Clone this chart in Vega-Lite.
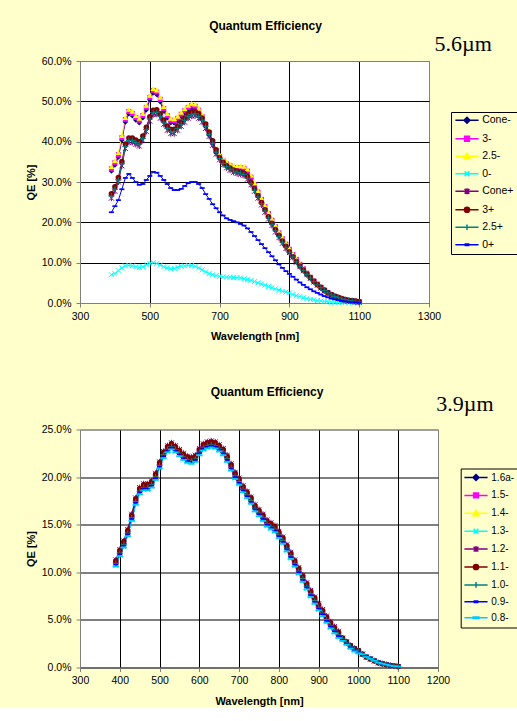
{
"$schema": "https://vega.github.io/schema/vega-lite/v6.json",
"background": "#FFFFCC",
"padding": {"left": 24, "top": 19, "right": 0, "bottom": 0},
"spacing": 42.5,
"datasets": {
"top": [
{"s":"Cone-","w":390,"q":32.7},{"s":"Cone-","w":400,"q":34.2},{"s":"Cone-","w":410,"q":36.2},{"s":"Cone-","w":420,"q":40.4},{"s":"Cone-","w":430,"q":44.9},{"s":"Cone-","w":440,"q":46.9},{"s":"Cone-","w":450,"q":46.4},{"s":"Cone-","w":460,"q":45.4},{"s":"Cone-","w":470,"q":44.7},{"s":"Cone-","w":480,"q":45.9},
{"s":"Cone-","w":490,"q":47.9},{"s":"Cone-","w":500,"q":50.4},{"s":"Cone-","w":510,"q":52.1},{"s":"Cone-","w":520,"q":51.7},{"s":"Cone-","w":530,"q":49.9},{"s":"Cone-","w":540,"q":47.6},{"s":"Cone-","w":550,"q":45.9},{"s":"Cone-","w":560,"q":44.7},{"s":"Cone-","w":570,"q":44.6},{"s":"Cone-","w":580,"q":45.2},
{"s":"Cone-","w":590,"q":46.2},{"s":"Cone-","w":600,"q":47.1},{"s":"Cone-","w":610,"q":47.9},{"s":"Cone-","w":620,"q":48.4},{"s":"Cone-","w":630,"q":48.2},{"s":"Cone-","w":640,"q":47.2},{"s":"Cone-","w":650,"q":45.6},{"s":"Cone-","w":660,"q":43.7},{"s":"Cone-","w":670,"q":41.6},{"s":"Cone-","w":680,"q":39.4},
{"s":"Cone-","w":690,"q":37.2},{"s":"Cone-","w":700,"q":35.9},{"s":"Cone-","w":710,"q":34.8},{"s":"Cone-","w":720,"q":34.1},{"s":"Cone-","w":730,"q":33.6},{"s":"Cone-","w":740,"q":33.2},{"s":"Cone-","w":750,"q":33.1},{"s":"Cone-","w":760,"q":33.1},{"s":"Cone-","w":770,"q":33.0},{"s":"Cone-","w":780,"q":32.3},
{"s":"Cone-","w":790,"q":30.8},{"s":"Cone-","w":800,"q":28.9},{"s":"Cone-","w":810,"q":27.1},{"s":"Cone-","w":820,"q":25.3},{"s":"Cone-","w":830,"q":23.5},{"s":"Cone-","w":840,"q":21.8},{"s":"Cone-","w":850,"q":20.1},{"s":"Cone-","w":860,"q":18.5},{"s":"Cone-","w":870,"q":17.0},{"s":"Cone-","w":880,"q":15.5},
{"s":"Cone-","w":890,"q":14.2},{"s":"Cone-","w":900,"q":13.1},{"s":"Cone-","w":910,"q":11.8},{"s":"Cone-","w":920,"q":10.6},{"s":"Cone-","w":930,"q":9.4},{"s":"Cone-","w":940,"q":8.3},{"s":"Cone-","w":950,"q":7.2},{"s":"Cone-","w":960,"q":6.2},{"s":"Cone-","w":970,"q":5.3},{"s":"Cone-","w":980,"q":4.5},
{"s":"Cone-","w":990,"q":3.7},{"s":"Cone-","w":1000,"q":3.1},{"s":"Cone-","w":1010,"q":2.5},{"s":"Cone-","w":1020,"q":2.0},{"s":"Cone-","w":1030,"q":1.6},{"s":"Cone-","w":1040,"q":1.2},{"s":"Cone-","w":1050,"q":0.9},{"s":"Cone-","w":1060,"q":0.7},{"s":"Cone-","w":1070,"q":0.5},{"s":"Cone-","w":1080,"q":0.4},
{"s":"Cone-","w":1090,"q":0.3},{"s":"Cone-","w":1100,"q":0.2},
{"s":"3-","w":390,"q":33.3},{"s":"3-","w":400,"q":34.8},{"s":"3-","w":410,"q":36.8},{"s":"3-","w":420,"q":41.0},{"s":"3-","w":430,"q":45.5},{"s":"3-","w":440,"q":47.5},{"s":"3-","w":450,"q":47.0},{"s":"3-","w":460,"q":46.0},{"s":"3-","w":470,"q":45.3},{"s":"3-","w":480,"q":46.5},
{"s":"3-","w":490,"q":48.5},{"s":"3-","w":500,"q":51.0},{"s":"3-","w":510,"q":52.7},{"s":"3-","w":520,"q":52.3},{"s":"3-","w":530,"q":50.5},{"s":"3-","w":540,"q":48.2},{"s":"3-","w":550,"q":46.5},{"s":"3-","w":560,"q":45.3},{"s":"3-","w":570,"q":45.2},{"s":"3-","w":580,"q":45.8},
{"s":"3-","w":590,"q":46.8},{"s":"3-","w":600,"q":47.7},{"s":"3-","w":610,"q":48.5},{"s":"3-","w":620,"q":49.0},{"s":"3-","w":630,"q":48.8},{"s":"3-","w":640,"q":47.8},{"s":"3-","w":650,"q":46.2},{"s":"3-","w":660,"q":44.3},{"s":"3-","w":670,"q":42.2},{"s":"3-","w":680,"q":40.0},
{"s":"3-","w":690,"q":37.8},{"s":"3-","w":700,"q":36.3},{"s":"3-","w":710,"q":35.2},{"s":"3-","w":720,"q":34.5},{"s":"3-","w":730,"q":34.0},{"s":"3-","w":740,"q":33.6},{"s":"3-","w":750,"q":33.5},{"s":"3-","w":760,"q":33.5},{"s":"3-","w":770,"q":33.4},{"s":"3-","w":780,"q":32.7},
{"s":"3-","w":790,"q":31.2},{"s":"3-","w":800,"q":29.3},{"s":"3-","w":810,"q":27.5},{"s":"3-","w":820,"q":25.7},{"s":"3-","w":830,"q":23.9},{"s":"3-","w":840,"q":22.2},{"s":"3-","w":850,"q":20.5},{"s":"3-","w":860,"q":18.9},{"s":"3-","w":870,"q":17.4},{"s":"3-","w":880,"q":15.9},
{"s":"3-","w":890,"q":14.6},{"s":"3-","w":900,"q":13.3},{"s":"3-","w":910,"q":12.0},{"s":"3-","w":920,"q":10.8},{"s":"3-","w":930,"q":9.6},{"s":"3-","w":940,"q":8.5},{"s":"3-","w":950,"q":7.4},{"s":"3-","w":960,"q":6.4},{"s":"3-","w":970,"q":5.5},{"s":"3-","w":980,"q":4.7},
{"s":"3-","w":990,"q":3.9},{"s":"3-","w":1000,"q":3.2},{"s":"3-","w":1010,"q":2.6},{"s":"3-","w":1020,"q":2.1},{"s":"3-","w":1030,"q":1.7},{"s":"3-","w":1040,"q":1.3},{"s":"3-","w":1050,"q":1.0},{"s":"3-","w":1060,"q":0.8},{"s":"3-","w":1070,"q":0.6},{"s":"3-","w":1080,"q":0.5},
{"s":"3-","w":1090,"q":0.4},{"s":"3-","w":1100,"q":0.3},
{"s":"2.5-","w":390,"q":33.8},{"s":"2.5-","w":400,"q":35.3},{"s":"2.5-","w":410,"q":37.3},{"s":"2.5-","w":420,"q":41.5},{"s":"2.5-","w":430,"q":46.0},{"s":"2.5-","w":440,"q":48.0},{"s":"2.5-","w":450,"q":47.5},{"s":"2.5-","w":460,"q":46.5},{"s":"2.5-","w":470,"q":45.8},{"s":"2.5-","w":480,"q":47.0},
{"s":"2.5-","w":490,"q":49.0},{"s":"2.5-","w":500,"q":51.5},{"s":"2.5-","w":510,"q":53.2},{"s":"2.5-","w":520,"q":52.8},{"s":"2.5-","w":530,"q":51.0},{"s":"2.5-","w":540,"q":48.7},{"s":"2.5-","w":550,"q":47.0},{"s":"2.5-","w":560,"q":45.8},{"s":"2.5-","w":570,"q":45.7},{"s":"2.5-","w":580,"q":46.3},
{"s":"2.5-","w":590,"q":47.3},{"s":"2.5-","w":600,"q":48.2},{"s":"2.5-","w":610,"q":49.0},{"s":"2.5-","w":620,"q":49.5},{"s":"2.5-","w":630,"q":49.3},{"s":"2.5-","w":640,"q":48.3},{"s":"2.5-","w":650,"q":46.7},{"s":"2.5-","w":660,"q":44.8},{"s":"2.5-","w":670,"q":42.7},{"s":"2.5-","w":680,"q":40.5},
{"s":"2.5-","w":690,"q":38.3},{"s":"2.5-","w":700,"q":36.8},{"s":"2.5-","w":710,"q":35.7},{"s":"2.5-","w":720,"q":35.0},{"s":"2.5-","w":730,"q":34.5},{"s":"2.5-","w":740,"q":34.1},{"s":"2.5-","w":750,"q":34.0},{"s":"2.5-","w":760,"q":34.0},{"s":"2.5-","w":770,"q":33.9},{"s":"2.5-","w":780,"q":33.2},
{"s":"2.5-","w":790,"q":31.7},{"s":"2.5-","w":800,"q":29.8},{"s":"2.5-","w":810,"q":27.8},{"s":"2.5-","w":820,"q":26.0},{"s":"2.5-","w":830,"q":24.2},{"s":"2.5-","w":840,"q":22.5},{"s":"2.5-","w":850,"q":20.8},{"s":"2.5-","w":860,"q":19.2},{"s":"2.5-","w":870,"q":17.7},{"s":"2.5-","w":880,"q":16.2},
{"s":"2.5-","w":890,"q":14.9},{"s":"2.5-","w":900,"q":13.5},{"s":"2.5-","w":910,"q":12.2},{"s":"2.5-","w":920,"q":11.0},{"s":"2.5-","w":930,"q":9.8},{"s":"2.5-","w":940,"q":8.7},{"s":"2.5-","w":950,"q":7.6},{"s":"2.5-","w":960,"q":6.6},{"s":"2.5-","w":970,"q":5.7},{"s":"2.5-","w":980,"q":4.9},
{"s":"2.5-","w":990,"q":4.1},{"s":"2.5-","w":1000,"q":3.3},{"s":"2.5-","w":1010,"q":2.7},{"s":"2.5-","w":1020,"q":2.2},{"s":"2.5-","w":1030,"q":1.8},{"s":"2.5-","w":1040,"q":1.4},{"s":"2.5-","w":1050,"q":1.1},{"s":"2.5-","w":1060,"q":0.9},{"s":"2.5-","w":1070,"q":0.7},{"s":"2.5-","w":1080,"q":0.6},
{"s":"2.5-","w":1090,"q":0.5},{"s":"2.5-","w":1100,"q":0.4},
{"s":"0-","w":390,"q":7.0},{"s":"0-","w":400,"q":7.3},{"s":"0-","w":410,"q":8.0},{"s":"0-","w":420,"q":8.7},{"s":"0-","w":430,"q":9.2},{"s":"0-","w":440,"q":9.3},{"s":"0-","w":450,"q":9.2},{"s":"0-","w":460,"q":9.0},{"s":"0-","w":470,"q":8.8},{"s":"0-","w":480,"q":9.0},
{"s":"0-","w":490,"q":9.5},{"s":"0-","w":500,"q":9.8},{"s":"0-","w":510,"q":10.0},{"s":"0-","w":520,"q":9.8},{"s":"0-","w":530,"q":9.4},{"s":"0-","w":540,"q":9.0},{"s":"0-","w":550,"q":8.7},{"s":"0-","w":560,"q":8.5},{"s":"0-","w":570,"q":8.6},{"s":"0-","w":580,"q":8.9},
{"s":"0-","w":590,"q":9.1},{"s":"0-","w":600,"q":9.2},{"s":"0-","w":610,"q":9.3},{"s":"0-","w":620,"q":9.3},{"s":"0-","w":630,"q":9.1},{"s":"0-","w":640,"q":8.7},{"s":"0-","w":650,"q":8.2},{"s":"0-","w":660,"q":7.7},{"s":"0-","w":670,"q":7.3},{"s":"0-","w":680,"q":7.0},
{"s":"0-","w":690,"q":6.8},{"s":"0-","w":700,"q":6.6},{"s":"0-","w":710,"q":6.5},{"s":"0-","w":720,"q":6.4},{"s":"0-","w":730,"q":6.4},{"s":"0-","w":740,"q":6.3},{"s":"0-","w":750,"q":6.3},{"s":"0-","w":760,"q":6.2},{"s":"0-","w":770,"q":6.0},{"s":"0-","w":780,"q":5.8},
{"s":"0-","w":790,"q":5.6},{"s":"0-","w":800,"q":5.3},{"s":"0-","w":810,"q":5.0},{"s":"0-","w":820,"q":4.7},{"s":"0-","w":830,"q":4.4},{"s":"0-","w":840,"q":4.1},{"s":"0-","w":850,"q":3.8},{"s":"0-","w":860,"q":3.5},{"s":"0-","w":870,"q":3.2},{"s":"0-","w":880,"q":2.9},
{"s":"0-","w":890,"q":2.7},{"s":"0-","w":900,"q":2.5},{"s":"0-","w":910,"q":2.1},{"s":"0-","w":920,"q":1.8},{"s":"0-","w":930,"q":1.6},{"s":"0-","w":940,"q":1.3},{"s":"0-","w":950,"q":1.1},{"s":"0-","w":960,"q":0.9},{"s":"0-","w":970,"q":0.8},{"s":"0-","w":980,"q":0.6},
{"s":"0-","w":990,"q":0.5},{"s":"0-","w":1000,"q":0.4},{"s":"0-","w":1010,"q":0.3},{"s":"0-","w":1020,"q":0.25},{"s":"0-","w":1030,"q":0.2},{"s":"0-","w":1040,"q":0.15},{"s":"0-","w":1050,"q":0.1},{"s":"0-","w":1060,"q":0.1},{"s":"0-","w":1070,"q":0.05},{"s":"0-","w":1080,"q":0.05},
{"s":"0-","w":1090,"q":0.05},{"s":"0-","w":1100,"q":0.05},
{"s":"Cone+","w":390,"q":26.0},{"s":"Cone+","w":400,"q":27.7},{"s":"Cone+","w":410,"q":30.0},{"s":"Cone+","w":420,"q":34.0},{"s":"Cone+","w":430,"q":38.3},{"s":"Cone+","w":440,"q":39.8},{"s":"Cone+","w":450,"q":39.8},{"s":"Cone+","w":460,"q":39.3},{"s":"Cone+","w":470,"q":38.9},{"s":"Cone+","w":480,"q":40.3},
{"s":"Cone+","w":490,"q":42.5},{"s":"Cone+","w":500,"q":45.1},{"s":"Cone+","w":510,"q":46.7},{"s":"Cone+","w":520,"q":46.8},{"s":"Cone+","w":530,"q":45.8},{"s":"Cone+","w":540,"q":44.3},{"s":"Cone+","w":550,"q":42.8},{"s":"Cone+","w":560,"q":42.0},{"s":"Cone+","w":570,"q":42.0},{"s":"Cone+","w":580,"q":42.8},
{"s":"Cone+","w":590,"q":43.8},{"s":"Cone+","w":600,"q":44.8},{"s":"Cone+","w":610,"q":45.8},{"s":"Cone+","w":620,"q":46.3},{"s":"Cone+","w":630,"q":46.4},{"s":"Cone+","w":640,"q":45.8},{"s":"Cone+","w":650,"q":44.8},{"s":"Cone+","w":660,"q":43.3},{"s":"Cone+","w":670,"q":41.3},{"s":"Cone+","w":680,"q":39.1},
{"s":"Cone+","w":690,"q":36.9},{"s":"Cone+","w":700,"q":35.5},{"s":"Cone+","w":710,"q":34.3},{"s":"Cone+","w":720,"q":33.5},{"s":"Cone+","w":730,"q":32.9},{"s":"Cone+","w":740,"q":32.4},{"s":"Cone+","w":750,"q":32.1},{"s":"Cone+","w":760,"q":31.9},{"s":"Cone+","w":770,"q":31.6},{"s":"Cone+","w":780,"q":30.7},
{"s":"Cone+","w":790,"q":29.3},{"s":"Cone+","w":800,"q":27.7},{"s":"Cone+","w":810,"q":26.0},{"s":"Cone+","w":820,"q":24.3},{"s":"Cone+","w":830,"q":22.5},{"s":"Cone+","w":840,"q":20.8},{"s":"Cone+","w":850,"q":19.2},{"s":"Cone+","w":860,"q":17.6},{"s":"Cone+","w":870,"q":16.2},{"s":"Cone+","w":880,"q":14.8},
{"s":"Cone+","w":890,"q":13.5},{"s":"Cone+","w":900,"q":12.5},{"s":"Cone+","w":910,"q":11.3},{"s":"Cone+","w":920,"q":10.1},{"s":"Cone+","w":930,"q":9.0},{"s":"Cone+","w":940,"q":8.0},{"s":"Cone+","w":950,"q":7.0},{"s":"Cone+","w":960,"q":6.1},{"s":"Cone+","w":970,"q":5.2},{"s":"Cone+","w":980,"q":4.4},
{"s":"Cone+","w":990,"q":3.7},{"s":"Cone+","w":1000,"q":3.0},{"s":"Cone+","w":1010,"q":2.4},{"s":"Cone+","w":1020,"q":1.9},{"s":"Cone+","w":1030,"q":1.5},{"s":"Cone+","w":1040,"q":1.2},{"s":"Cone+","w":1050,"q":0.9},{"s":"Cone+","w":1060,"q":0.7},{"s":"Cone+","w":1070,"q":0.5},{"s":"Cone+","w":1080,"q":0.4},
{"s":"Cone+","w":1090,"q":0.3},{"s":"Cone+","w":1100,"q":0.2},
{"s":"3+","w":390,"q":27.1},{"s":"3+","w":400,"q":28.8},{"s":"3+","w":410,"q":31.1},{"s":"3+","w":420,"q":35.1},{"s":"3+","w":430,"q":39.4},{"s":"3+","w":440,"q":40.9},{"s":"3+","w":450,"q":40.9},{"s":"3+","w":460,"q":40.4},{"s":"3+","w":470,"q":40.0},{"s":"3+","w":480,"q":41.4},
{"s":"3+","w":490,"q":43.6},{"s":"3+","w":500,"q":46.2},{"s":"3+","w":510,"q":47.8},{"s":"3+","w":520,"q":47.9},{"s":"3+","w":530,"q":46.9},{"s":"3+","w":540,"q":45.4},{"s":"3+","w":550,"q":43.9},{"s":"3+","w":560,"q":43.1},{"s":"3+","w":570,"q":43.1},{"s":"3+","w":580,"q":43.9},
{"s":"3+","w":590,"q":44.9},{"s":"3+","w":600,"q":45.9},{"s":"3+","w":610,"q":46.9},{"s":"3+","w":620,"q":47.4},{"s":"3+","w":630,"q":47.5},{"s":"3+","w":640,"q":46.9},{"s":"3+","w":650,"q":45.9},{"s":"3+","w":660,"q":44.4},{"s":"3+","w":670,"q":42.4},{"s":"3+","w":680,"q":40.2},
{"s":"3+","w":690,"q":38.0},{"s":"3+","w":700,"q":36.1},{"s":"3+","w":710,"q":34.9},{"s":"3+","w":720,"q":34.1},{"s":"3+","w":730,"q":33.5},{"s":"3+","w":740,"q":33.0},{"s":"3+","w":750,"q":32.7},{"s":"3+","w":760,"q":32.5},{"s":"3+","w":770,"q":32.2},{"s":"3+","w":780,"q":31.3},
{"s":"3+","w":790,"q":29.9},{"s":"3+","w":800,"q":28.3},{"s":"3+","w":810,"q":26.6},{"s":"3+","w":820,"q":24.9},{"s":"3+","w":830,"q":23.1},{"s":"3+","w":840,"q":21.4},{"s":"3+","w":850,"q":19.8},{"s":"3+","w":860,"q":18.2},{"s":"3+","w":870,"q":16.8},{"s":"3+","w":880,"q":15.4},
{"s":"3+","w":890,"q":14.1},{"s":"3+","w":900,"q":12.7},{"s":"3+","w":910,"q":11.5},{"s":"3+","w":920,"q":10.3},{"s":"3+","w":930,"q":9.2},{"s":"3+","w":940,"q":8.2},{"s":"3+","w":950,"q":7.2},{"s":"3+","w":960,"q":6.3},{"s":"3+","w":970,"q":5.4},{"s":"3+","w":980,"q":4.6},
{"s":"3+","w":990,"q":3.9},{"s":"3+","w":1000,"q":3.2},{"s":"3+","w":1010,"q":2.6},{"s":"3+","w":1020,"q":2.1},{"s":"3+","w":1030,"q":1.7},{"s":"3+","w":1040,"q":1.4},{"s":"3+","w":1050,"q":1.1},{"s":"3+","w":1060,"q":0.9},{"s":"3+","w":1070,"q":0.7},{"s":"3+","w":1080,"q":0.6},
{"s":"3+","w":1090,"q":0.5},{"s":"3+","w":1100,"q":0.4},
{"s":"2.5+","w":390,"q":26.5},{"s":"2.5+","w":400,"q":28.2},{"s":"2.5+","w":410,"q":30.5},{"s":"2.5+","w":420,"q":34.5},{"s":"2.5+","w":430,"q":38.8},{"s":"2.5+","w":440,"q":40.3},{"s":"2.5+","w":450,"q":40.3},{"s":"2.5+","w":460,"q":39.8},{"s":"2.5+","w":470,"q":39.4},{"s":"2.5+","w":480,"q":40.8},
{"s":"2.5+","w":490,"q":43.0},{"s":"2.5+","w":500,"q":45.6},{"s":"2.5+","w":510,"q":47.2},{"s":"2.5+","w":520,"q":47.3},{"s":"2.5+","w":530,"q":46.3},{"s":"2.5+","w":540,"q":44.8},{"s":"2.5+","w":550,"q":43.3},{"s":"2.5+","w":560,"q":42.5},{"s":"2.5+","w":570,"q":42.5},{"s":"2.5+","w":580,"q":43.3},
{"s":"2.5+","w":590,"q":44.3},{"s":"2.5+","w":600,"q":45.3},{"s":"2.5+","w":610,"q":46.3},{"s":"2.5+","w":620,"q":46.8},{"s":"2.5+","w":630,"q":46.9},{"s":"2.5+","w":640,"q":46.3},{"s":"2.5+","w":650,"q":45.3},{"s":"2.5+","w":660,"q":43.8},{"s":"2.5+","w":670,"q":41.8},{"s":"2.5+","w":680,"q":39.6},
{"s":"2.5+","w":690,"q":37.4},{"s":"2.5+","w":700,"q":35.8},{"s":"2.5+","w":710,"q":34.6},{"s":"2.5+","w":720,"q":33.8},{"s":"2.5+","w":730,"q":33.2},{"s":"2.5+","w":740,"q":32.7},{"s":"2.5+","w":750,"q":32.4},{"s":"2.5+","w":760,"q":32.2},{"s":"2.5+","w":770,"q":31.9},{"s":"2.5+","w":780,"q":31.0},
{"s":"2.5+","w":790,"q":29.6},{"s":"2.5+","w":800,"q":28.0},{"s":"2.5+","w":810,"q":26.3},{"s":"2.5+","w":820,"q":24.6},{"s":"2.5+","w":830,"q":22.8},{"s":"2.5+","w":840,"q":21.1},{"s":"2.5+","w":850,"q":19.5},{"s":"2.5+","w":860,"q":17.9},{"s":"2.5+","w":870,"q":16.5},{"s":"2.5+","w":880,"q":15.1},
{"s":"2.5+","w":890,"q":13.8},{"s":"2.5+","w":900,"q":12.6},{"s":"2.5+","w":910,"q":11.4},{"s":"2.5+","w":920,"q":10.2},{"s":"2.5+","w":930,"q":9.1},{"s":"2.5+","w":940,"q":8.1},{"s":"2.5+","w":950,"q":7.1},{"s":"2.5+","w":960,"q":6.2},{"s":"2.5+","w":970,"q":5.3},{"s":"2.5+","w":980,"q":4.5},
{"s":"2.5+","w":990,"q":3.8},{"s":"2.5+","w":1000,"q":3.1},{"s":"2.5+","w":1010,"q":2.5},{"s":"2.5+","w":1020,"q":2.0},{"s":"2.5+","w":1030,"q":1.6},{"s":"2.5+","w":1040,"q":1.3},{"s":"2.5+","w":1050,"q":1.0},{"s":"2.5+","w":1060,"q":0.8},{"s":"2.5+","w":1070,"q":0.6},{"s":"2.5+","w":1080,"q":0.5},
{"s":"2.5+","w":1090,"q":0.4},{"s":"2.5+","w":1100,"q":0.3},
{"s":"0+","w":390,"q":22.5},{"s":"0+","w":400,"q":24.0},{"s":"0+","w":410,"q":25.5},{"s":"0+","w":420,"q":28.2},{"s":"0+","w":430,"q":31.0},{"s":"0+","w":440,"q":32.0},{"s":"0+","w":450,"q":31.0},{"s":"0+","w":460,"q":30.0},{"s":"0+","w":470,"q":29.3},{"s":"0+","w":480,"q":29.5},
{"s":"0+","w":490,"q":30.5},{"s":"0+","w":500,"q":31.5},{"s":"0+","w":510,"q":32.5},{"s":"0+","w":520,"q":32.3},{"s":"0+","w":530,"q":31.5},{"s":"0+","w":540,"q":30.5},{"s":"0+","w":550,"q":29.5},{"s":"0+","w":560,"q":28.5},{"s":"0+","w":570,"q":28.0},{"s":"0+","w":580,"q":28.0},
{"s":"0+","w":590,"q":28.3},{"s":"0+","w":600,"q":29.0},{"s":"0+","w":610,"q":29.7},{"s":"0+","w":620,"q":30.0},{"s":"0+","w":630,"q":30.0},{"s":"0+","w":640,"q":29.5},{"s":"0+","w":650,"q":28.5},{"s":"0+","w":660,"q":27.0},{"s":"0+","w":670,"q":25.8},{"s":"0+","w":680,"q":24.5},
{"s":"0+","w":690,"q":23.5},{"s":"0+","w":700,"q":22.5},{"s":"0+","w":710,"q":21.7},{"s":"0+","w":720,"q":21.0},{"s":"0+","w":730,"q":20.6},{"s":"0+","w":740,"q":20.3},{"s":"0+","w":750,"q":20.0},{"s":"0+","w":760,"q":19.6},{"s":"0+","w":770,"q":19.2},{"s":"0+","w":780,"q":18.5},
{"s":"0+","w":790,"q":17.6},{"s":"0+","w":800,"q":16.6},{"s":"0+","w":810,"q":15.6},{"s":"0+","w":820,"q":14.6},{"s":"0+","w":830,"q":13.6},{"s":"0+","w":840,"q":12.6},{"s":"0+","w":850,"q":11.6},{"s":"0+","w":860,"q":10.6},{"s":"0+","w":870,"q":9.6},{"s":"0+","w":880,"q":8.7},
{"s":"0+","w":890,"q":7.9},{"s":"0+","w":900,"q":7.2},{"s":"0+","w":910,"q":6.5},{"s":"0+","w":920,"q":5.8},{"s":"0+","w":930,"q":5.1},{"s":"0+","w":940,"q":4.5},{"s":"0+","w":950,"q":3.9},{"s":"0+","w":960,"q":3.4},{"s":"0+","w":970,"q":2.9},{"s":"0+","w":980,"q":2.5},
{"s":"0+","w":990,"q":2.1},{"s":"0+","w":1000,"q":1.7},{"s":"0+","w":1010,"q":1.4},{"s":"0+","w":1020,"q":1.1},{"s":"0+","w":1030,"q":0.9},{"s":"0+","w":1040,"q":0.7},{"s":"0+","w":1050,"q":0.5},{"s":"0+","w":1060,"q":0.4},{"s":"0+","w":1070,"q":0.3},{"s":"0+","w":1080,"q":0.2},
{"s":"0+","w":1090,"q":0.2},{"s":"0+","w":1100,"q":0.1}
],
"bot": [
{"s":"1.6a-","w":390,"q":11.0},{"s":"1.6a-","w":400,"q":12.1},{"s":"1.6a-","w":410,"q":13.0},{"s":"1.6a-","w":420,"q":14.2},{"s":"1.6a-","w":430,"q":15.8},{"s":"1.6a-","w":440,"q":17.5},{"s":"1.6a-","w":450,"q":18.6},{"s":"1.6a-","w":460,"q":19.0},{"s":"1.6a-","w":470,"q":19.0},{"s":"1.6a-","w":480,"q":19.3},
{"s":"1.6a-","w":490,"q":20.1},{"s":"1.6a-","w":500,"q":21.3},{"s":"1.6a-","w":510,"q":22.4},{"s":"1.6a-","w":520,"q":23.0},{"s":"1.6a-","w":530,"q":23.3},{"s":"1.6a-","w":540,"q":23.0},{"s":"1.6a-","w":550,"q":22.6},{"s":"1.6a-","w":560,"q":22.2},{"s":"1.6a-","w":570,"q":21.9},{"s":"1.6a-","w":580,"q":21.8},
{"s":"1.6a-","w":590,"q":22.0},{"s":"1.6a-","w":600,"q":22.7},{"s":"1.6a-","w":610,"q":23.2},{"s":"1.6a-","w":620,"q":23.4},{"s":"1.6a-","w":630,"q":23.5},{"s":"1.6a-","w":640,"q":23.4},{"s":"1.6a-","w":650,"q":23.1},{"s":"1.6a-","w":660,"q":22.7},{"s":"1.6a-","w":670,"q":22.0},{"s":"1.6a-","w":680,"q":21.1},
{"s":"1.6a-","w":690,"q":20.2},{"s":"1.6a-","w":700,"q":19.6},{"s":"1.6a-","w":710,"q":18.8},{"s":"1.6a-","w":720,"q":18.2},{"s":"1.6a-","w":730,"q":17.6},{"s":"1.6a-","w":740,"q":16.8},{"s":"1.6a-","w":750,"q":16.3},{"s":"1.6a-","w":760,"q":15.8},{"s":"1.6a-","w":770,"q":15.2},{"s":"1.6a-","w":780,"q":14.9},
{"s":"1.6a-","w":790,"q":14.6},{"s":"1.6a-","w":800,"q":14.0},{"s":"1.6a-","w":810,"q":13.4},{"s":"1.6a-","w":820,"q":12.6},{"s":"1.6a-","w":830,"q":11.8},{"s":"1.6a-","w":840,"q":11.0},{"s":"1.6a-","w":850,"q":10.2},{"s":"1.6a-","w":860,"q":9.4},{"s":"1.6a-","w":870,"q":8.6},{"s":"1.6a-","w":880,"q":7.8},
{"s":"1.6a-","w":890,"q":7.1},{"s":"1.6a-","w":900,"q":6.4},{"s":"1.6a-","w":910,"q":5.8},{"s":"1.6a-","w":920,"q":5.1},{"s":"1.6a-","w":930,"q":4.5},{"s":"1.6a-","w":940,"q":4.0},{"s":"1.6a-","w":950,"q":3.5},{"s":"1.6a-","w":960,"q":3.0},{"s":"1.6a-","w":970,"q":2.6},{"s":"1.6a-","w":980,"q":2.2},
{"s":"1.6a-","w":990,"q":1.9},{"s":"1.6a-","w":1000,"q":1.7},{"s":"1.6a-","w":1010,"q":1.4},{"s":"1.6a-","w":1020,"q":1.1},{"s":"1.6a-","w":1030,"q":0.9},{"s":"1.6a-","w":1040,"q":0.7},{"s":"1.6a-","w":1050,"q":0.5},{"s":"1.6a-","w":1060,"q":0.4},{"s":"1.6a-","w":1070,"q":0.3},{"s":"1.6a-","w":1080,"q":0.2},
{"s":"1.6a-","w":1090,"q":0.15},{"s":"1.6a-","w":1100,"q":0.1},
{"s":"1.5-","w":390,"q":11.1},{"s":"1.5-","w":400,"q":12.2},{"s":"1.5-","w":410,"q":13.1},{"s":"1.5-","w":420,"q":14.3},{"s":"1.5-","w":430,"q":15.9},{"s":"1.5-","w":440,"q":17.6},{"s":"1.5-","w":450,"q":18.7},{"s":"1.5-","w":460,"q":19.1},{"s":"1.5-","w":470,"q":19.1},{"s":"1.5-","w":480,"q":19.4},
{"s":"1.5-","w":490,"q":20.2},{"s":"1.5-","w":500,"q":21.4},{"s":"1.5-","w":510,"q":22.5},{"s":"1.5-","w":520,"q":23.1},{"s":"1.5-","w":530,"q":23.4},{"s":"1.5-","w":540,"q":23.1},{"s":"1.5-","w":550,"q":22.7},{"s":"1.5-","w":560,"q":22.3},{"s":"1.5-","w":570,"q":22.0},{"s":"1.5-","w":580,"q":21.9},
{"s":"1.5-","w":590,"q":22.1},{"s":"1.5-","w":600,"q":22.8},{"s":"1.5-","w":610,"q":23.3},{"s":"1.5-","w":620,"q":23.5},{"s":"1.5-","w":630,"q":23.6},{"s":"1.5-","w":640,"q":23.5},{"s":"1.5-","w":650,"q":23.2},{"s":"1.5-","w":660,"q":22.8},{"s":"1.5-","w":670,"q":22.1},{"s":"1.5-","w":680,"q":21.2},
{"s":"1.5-","w":690,"q":20.3},{"s":"1.5-","w":700,"q":19.7},{"s":"1.5-","w":710,"q":18.9},{"s":"1.5-","w":720,"q":18.3},{"s":"1.5-","w":730,"q":17.7},{"s":"1.5-","w":740,"q":16.9},{"s":"1.5-","w":750,"q":16.4},{"s":"1.5-","w":760,"q":15.9},{"s":"1.5-","w":770,"q":15.3},{"s":"1.5-","w":780,"q":15.0},
{"s":"1.5-","w":790,"q":14.7},{"s":"1.5-","w":800,"q":14.1},{"s":"1.5-","w":810,"q":13.5},{"s":"1.5-","w":820,"q":12.7},{"s":"1.5-","w":830,"q":11.9},{"s":"1.5-","w":840,"q":11.1},{"s":"1.5-","w":850,"q":10.3},{"s":"1.5-","w":860,"q":9.5},{"s":"1.5-","w":870,"q":8.7},{"s":"1.5-","w":880,"q":7.9},
{"s":"1.5-","w":890,"q":7.2},{"s":"1.5-","w":900,"q":6.5},{"s":"1.5-","w":910,"q":5.9},{"s":"1.5-","w":920,"q":5.2},{"s":"1.5-","w":930,"q":4.6},{"s":"1.5-","w":940,"q":4.1},{"s":"1.5-","w":950,"q":3.6},{"s":"1.5-","w":960,"q":3.0},{"s":"1.5-","w":970,"q":2.6},{"s":"1.5-","w":980,"q":2.2},
{"s":"1.5-","w":990,"q":1.9},{"s":"1.5-","w":1000,"q":1.7},{"s":"1.5-","w":1010,"q":1.4},{"s":"1.5-","w":1020,"q":1.1},{"s":"1.5-","w":1030,"q":0.9},{"s":"1.5-","w":1040,"q":0.7},{"s":"1.5-","w":1050,"q":0.5},{"s":"1.5-","w":1060,"q":0.4},{"s":"1.5-","w":1070,"q":0.3},{"s":"1.5-","w":1080,"q":0.2},
{"s":"1.5-","w":1090,"q":0.15},{"s":"1.5-","w":1100,"q":0.1},
{"s":"1.4-","w":390,"q":11.0},{"s":"1.4-","w":400,"q":12.1},{"s":"1.4-","w":410,"q":13.0},{"s":"1.4-","w":420,"q":14.2},{"s":"1.4-","w":430,"q":15.8},{"s":"1.4-","w":440,"q":17.5},{"s":"1.4-","w":450,"q":18.6},{"s":"1.4-","w":460,"q":19.0},{"s":"1.4-","w":470,"q":19.0},{"s":"1.4-","w":480,"q":19.3},
{"s":"1.4-","w":490,"q":20.1},{"s":"1.4-","w":500,"q":21.3},{"s":"1.4-","w":510,"q":22.4},{"s":"1.4-","w":520,"q":23.0},{"s":"1.4-","w":530,"q":23.3},{"s":"1.4-","w":540,"q":23.0},{"s":"1.4-","w":550,"q":22.6},{"s":"1.4-","w":560,"q":22.2},{"s":"1.4-","w":570,"q":21.9},{"s":"1.4-","w":580,"q":21.8},
{"s":"1.4-","w":590,"q":22.0},{"s":"1.4-","w":600,"q":22.7},{"s":"1.4-","w":610,"q":23.2},{"s":"1.4-","w":620,"q":23.4},{"s":"1.4-","w":630,"q":23.5},{"s":"1.4-","w":640,"q":23.4},{"s":"1.4-","w":650,"q":23.1},{"s":"1.4-","w":660,"q":22.7},{"s":"1.4-","w":670,"q":22.0},{"s":"1.4-","w":680,"q":21.1},
{"s":"1.4-","w":690,"q":20.2},{"s":"1.4-","w":700,"q":19.6},{"s":"1.4-","w":710,"q":18.8},{"s":"1.4-","w":720,"q":18.2},{"s":"1.4-","w":730,"q":17.6},{"s":"1.4-","w":740,"q":16.8},{"s":"1.4-","w":750,"q":16.3},{"s":"1.4-","w":760,"q":15.8},{"s":"1.4-","w":770,"q":15.2},{"s":"1.4-","w":780,"q":14.9},
{"s":"1.4-","w":790,"q":14.6},{"s":"1.4-","w":800,"q":14.0},{"s":"1.4-","w":810,"q":13.4},{"s":"1.4-","w":820,"q":12.6},{"s":"1.4-","w":830,"q":11.8},{"s":"1.4-","w":840,"q":11.0},{"s":"1.4-","w":850,"q":10.2},{"s":"1.4-","w":860,"q":9.4},{"s":"1.4-","w":870,"q":8.6},{"s":"1.4-","w":880,"q":7.8},
{"s":"1.4-","w":890,"q":7.1},{"s":"1.4-","w":900,"q":6.4},{"s":"1.4-","w":910,"q":5.8},{"s":"1.4-","w":920,"q":5.1},{"s":"1.4-","w":930,"q":4.5},{"s":"1.4-","w":940,"q":4.0},{"s":"1.4-","w":950,"q":3.5},{"s":"1.4-","w":960,"q":3.0},{"s":"1.4-","w":970,"q":2.6},{"s":"1.4-","w":980,"q":2.2},
{"s":"1.4-","w":990,"q":1.9},{"s":"1.4-","w":1000,"q":1.7},{"s":"1.4-","w":1010,"q":1.4},{"s":"1.4-","w":1020,"q":1.1},{"s":"1.4-","w":1030,"q":0.9},{"s":"1.4-","w":1040,"q":0.7},{"s":"1.4-","w":1050,"q":0.5},{"s":"1.4-","w":1060,"q":0.4},{"s":"1.4-","w":1070,"q":0.3},{"s":"1.4-","w":1080,"q":0.2},
{"s":"1.4-","w":1090,"q":0.15},{"s":"1.4-","w":1100,"q":0.1},
{"s":"1.3-","w":390,"q":10.7},{"s":"1.3-","w":400,"q":11.8},{"s":"1.3-","w":410,"q":12.7},{"s":"1.3-","w":420,"q":13.9},{"s":"1.3-","w":430,"q":15.5},{"s":"1.3-","w":440,"q":17.2},{"s":"1.3-","w":450,"q":18.3},{"s":"1.3-","w":460,"q":18.7},{"s":"1.3-","w":470,"q":18.7},{"s":"1.3-","w":480,"q":19.0},
{"s":"1.3-","w":490,"q":19.8},{"s":"1.3-","w":500,"q":21.0},{"s":"1.3-","w":510,"q":22.1},{"s":"1.3-","w":520,"q":22.7},{"s":"1.3-","w":530,"q":23.0},{"s":"1.3-","w":540,"q":22.7},{"s":"1.3-","w":550,"q":22.3},{"s":"1.3-","w":560,"q":21.9},{"s":"1.3-","w":570,"q":21.6},{"s":"1.3-","w":580,"q":21.5},
{"s":"1.3-","w":590,"q":21.7},{"s":"1.3-","w":600,"q":22.4},{"s":"1.3-","w":610,"q":22.9},{"s":"1.3-","w":620,"q":23.1},{"s":"1.3-","w":630,"q":23.2},{"s":"1.3-","w":640,"q":23.1},{"s":"1.3-","w":650,"q":22.8},{"s":"1.3-","w":660,"q":22.4},{"s":"1.3-","w":670,"q":21.7},{"s":"1.3-","w":680,"q":20.8},
{"s":"1.3-","w":690,"q":19.9},{"s":"1.3-","w":700,"q":19.3},{"s":"1.3-","w":710,"q":18.5},{"s":"1.3-","w":720,"q":17.9},{"s":"1.3-","w":730,"q":17.3},{"s":"1.3-","w":740,"q":16.5},{"s":"1.3-","w":750,"q":16.0},{"s":"1.3-","w":760,"q":15.5},{"s":"1.3-","w":770,"q":14.9},{"s":"1.3-","w":780,"q":14.6},
{"s":"1.3-","w":790,"q":14.3},{"s":"1.3-","w":800,"q":13.7},{"s":"1.3-","w":810,"q":13.1},{"s":"1.3-","w":820,"q":12.3},{"s":"1.3-","w":830,"q":11.5},{"s":"1.3-","w":840,"q":10.7},{"s":"1.3-","w":850,"q":9.9},{"s":"1.3-","w":860,"q":9.1},{"s":"1.3-","w":870,"q":8.3},{"s":"1.3-","w":880,"q":7.5},
{"s":"1.3-","w":890,"q":6.8},{"s":"1.3-","w":900,"q":6.1},{"s":"1.3-","w":910,"q":5.5},{"s":"1.3-","w":920,"q":4.8},{"s":"1.3-","w":930,"q":4.2},{"s":"1.3-","w":940,"q":3.7},{"s":"1.3-","w":950,"q":3.2},{"s":"1.3-","w":960,"q":2.9},{"s":"1.3-","w":970,"q":2.5},{"s":"1.3-","w":980,"q":2.1},
{"s":"1.3-","w":990,"q":1.8},{"s":"1.3-","w":1000,"q":1.6},{"s":"1.3-","w":1010,"q":1.4},{"s":"1.3-","w":1020,"q":1.1},{"s":"1.3-","w":1030,"q":0.9},{"s":"1.3-","w":1040,"q":0.7},{"s":"1.3-","w":1050,"q":0.5},{"s":"1.3-","w":1060,"q":0.4},{"s":"1.3-","w":1070,"q":0.3},{"s":"1.3-","w":1080,"q":0.2},
{"s":"1.3-","w":1090,"q":0.15},{"s":"1.3-","w":1100,"q":0.1},
{"s":"1.2-","w":390,"q":11.3},{"s":"1.2-","w":400,"q":12.4},{"s":"1.2-","w":410,"q":13.3},{"s":"1.2-","w":420,"q":14.5},{"s":"1.2-","w":430,"q":16.1},{"s":"1.2-","w":440,"q":17.8},{"s":"1.2-","w":450,"q":18.9},{"s":"1.2-","w":460,"q":19.3},{"s":"1.2-","w":470,"q":19.3},{"s":"1.2-","w":480,"q":19.6},
{"s":"1.2-","w":490,"q":20.4},{"s":"1.2-","w":500,"q":21.6},{"s":"1.2-","w":510,"q":22.7},{"s":"1.2-","w":520,"q":23.3},{"s":"1.2-","w":530,"q":23.6},{"s":"1.2-","w":540,"q":23.3},{"s":"1.2-","w":550,"q":22.9},{"s":"1.2-","w":560,"q":22.5},{"s":"1.2-","w":570,"q":22.2},{"s":"1.2-","w":580,"q":22.1},
{"s":"1.2-","w":590,"q":22.3},{"s":"1.2-","w":600,"q":23.0},{"s":"1.2-","w":610,"q":23.5},{"s":"1.2-","w":620,"q":23.7},{"s":"1.2-","w":630,"q":23.8},{"s":"1.2-","w":640,"q":23.7},{"s":"1.2-","w":650,"q":23.4},{"s":"1.2-","w":660,"q":23.0},{"s":"1.2-","w":670,"q":22.3},{"s":"1.2-","w":680,"q":21.4},
{"s":"1.2-","w":690,"q":20.5},{"s":"1.2-","w":700,"q":19.9},{"s":"1.2-","w":710,"q":19.1},{"s":"1.2-","w":720,"q":18.5},{"s":"1.2-","w":730,"q":17.9},{"s":"1.2-","w":740,"q":17.1},{"s":"1.2-","w":750,"q":16.6},{"s":"1.2-","w":760,"q":16.1},{"s":"1.2-","w":770,"q":15.5},{"s":"1.2-","w":780,"q":15.2},
{"s":"1.2-","w":790,"q":14.9},{"s":"1.2-","w":800,"q":14.3},{"s":"1.2-","w":810,"q":13.7},{"s":"1.2-","w":820,"q":12.9},{"s":"1.2-","w":830,"q":12.1},{"s":"1.2-","w":840,"q":11.3},{"s":"1.2-","w":850,"q":10.5},{"s":"1.2-","w":860,"q":9.7},{"s":"1.2-","w":870,"q":8.9},{"s":"1.2-","w":880,"q":8.1},
{"s":"1.2-","w":890,"q":7.4},{"s":"1.2-","w":900,"q":6.7},{"s":"1.2-","w":910,"q":6.1},{"s":"1.2-","w":920,"q":5.4},{"s":"1.2-","w":930,"q":4.8},{"s":"1.2-","w":940,"q":4.3},{"s":"1.2-","w":950,"q":3.8},{"s":"1.2-","w":960,"q":3.1},{"s":"1.2-","w":970,"q":2.7},{"s":"1.2-","w":980,"q":2.3},
{"s":"1.2-","w":990,"q":2.0},{"s":"1.2-","w":1000,"q":1.8},{"s":"1.2-","w":1010,"q":1.4},{"s":"1.2-","w":1020,"q":1.1},{"s":"1.2-","w":1030,"q":0.9},{"s":"1.2-","w":1040,"q":0.7},{"s":"1.2-","w":1050,"q":0.5},{"s":"1.2-","w":1060,"q":0.4},{"s":"1.2-","w":1070,"q":0.3},{"s":"1.2-","w":1080,"q":0.2},
{"s":"1.2-","w":1090,"q":0.15},{"s":"1.2-","w":1100,"q":0.1},
{"s":"1.1-","w":390,"q":11.2},{"s":"1.1-","w":400,"q":12.3},{"s":"1.1-","w":410,"q":13.2},{"s":"1.1-","w":420,"q":14.4},{"s":"1.1-","w":430,"q":16.0},{"s":"1.1-","w":440,"q":17.7},{"s":"1.1-","w":450,"q":18.8},{"s":"1.1-","w":460,"q":19.2},{"s":"1.1-","w":470,"q":19.2},{"s":"1.1-","w":480,"q":19.5},
{"s":"1.1-","w":490,"q":20.3},{"s":"1.1-","w":500,"q":21.5},{"s":"1.1-","w":510,"q":22.6},{"s":"1.1-","w":520,"q":23.2},{"s":"1.1-","w":530,"q":23.5},{"s":"1.1-","w":540,"q":23.2},{"s":"1.1-","w":550,"q":22.8},{"s":"1.1-","w":560,"q":22.4},{"s":"1.1-","w":570,"q":22.1},{"s":"1.1-","w":580,"q":22.0},
{"s":"1.1-","w":590,"q":22.2},{"s":"1.1-","w":600,"q":22.9},{"s":"1.1-","w":610,"q":23.4},{"s":"1.1-","w":620,"q":23.6},{"s":"1.1-","w":630,"q":23.7},{"s":"1.1-","w":640,"q":23.6},{"s":"1.1-","w":650,"q":23.3},{"s":"1.1-","w":660,"q":22.9},{"s":"1.1-","w":670,"q":22.2},{"s":"1.1-","w":680,"q":21.3},
{"s":"1.1-","w":690,"q":20.4},{"s":"1.1-","w":700,"q":19.8},{"s":"1.1-","w":710,"q":19.0},{"s":"1.1-","w":720,"q":18.4},{"s":"1.1-","w":730,"q":17.8},{"s":"1.1-","w":740,"q":17.0},{"s":"1.1-","w":750,"q":16.5},{"s":"1.1-","w":760,"q":16.0},{"s":"1.1-","w":770,"q":15.4},{"s":"1.1-","w":780,"q":15.1},
{"s":"1.1-","w":790,"q":14.8},{"s":"1.1-","w":800,"q":14.2},{"s":"1.1-","w":810,"q":13.6},{"s":"1.1-","w":820,"q":12.8},{"s":"1.1-","w":830,"q":12.0},{"s":"1.1-","w":840,"q":11.2},{"s":"1.1-","w":850,"q":10.4},{"s":"1.1-","w":860,"q":9.6},{"s":"1.1-","w":870,"q":8.8},{"s":"1.1-","w":880,"q":8.0},
{"s":"1.1-","w":890,"q":7.3},{"s":"1.1-","w":900,"q":6.6},{"s":"1.1-","w":910,"q":6.0},{"s":"1.1-","w":920,"q":5.3},{"s":"1.1-","w":930,"q":4.7},{"s":"1.1-","w":940,"q":4.2},{"s":"1.1-","w":950,"q":3.7},{"s":"1.1-","w":960,"q":3.1},{"s":"1.1-","w":970,"q":2.7},{"s":"1.1-","w":980,"q":2.3},
{"s":"1.1-","w":990,"q":2.0},{"s":"1.1-","w":1000,"q":1.8},{"s":"1.1-","w":1010,"q":1.4},{"s":"1.1-","w":1020,"q":1.1},{"s":"1.1-","w":1030,"q":0.9},{"s":"1.1-","w":1040,"q":0.7},{"s":"1.1-","w":1050,"q":0.5},{"s":"1.1-","w":1060,"q":0.4},{"s":"1.1-","w":1070,"q":0.3},{"s":"1.1-","w":1080,"q":0.2},
{"s":"1.1-","w":1090,"q":0.15},{"s":"1.1-","w":1100,"q":0.1},
{"s":"1.0-","w":390,"q":10.9},{"s":"1.0-","w":400,"q":12.0},{"s":"1.0-","w":410,"q":12.9},{"s":"1.0-","w":420,"q":14.1},{"s":"1.0-","w":430,"q":15.7},{"s":"1.0-","w":440,"q":17.4},{"s":"1.0-","w":450,"q":18.5},{"s":"1.0-","w":460,"q":18.9},{"s":"1.0-","w":470,"q":18.9},{"s":"1.0-","w":480,"q":19.2},
{"s":"1.0-","w":490,"q":20.0},{"s":"1.0-","w":500,"q":21.2},{"s":"1.0-","w":510,"q":22.3},{"s":"1.0-","w":520,"q":22.9},{"s":"1.0-","w":530,"q":23.2},{"s":"1.0-","w":540,"q":22.9},{"s":"1.0-","w":550,"q":22.5},{"s":"1.0-","w":560,"q":22.1},{"s":"1.0-","w":570,"q":21.8},{"s":"1.0-","w":580,"q":21.7},
{"s":"1.0-","w":590,"q":21.9},{"s":"1.0-","w":600,"q":22.6},{"s":"1.0-","w":610,"q":23.1},{"s":"1.0-","w":620,"q":23.3},{"s":"1.0-","w":630,"q":23.4},{"s":"1.0-","w":640,"q":23.3},{"s":"1.0-","w":650,"q":23.0},{"s":"1.0-","w":660,"q":22.6},{"s":"1.0-","w":670,"q":21.9},{"s":"1.0-","w":680,"q":21.0},
{"s":"1.0-","w":690,"q":20.1},{"s":"1.0-","w":700,"q":19.5},{"s":"1.0-","w":710,"q":18.7},{"s":"1.0-","w":720,"q":18.1},{"s":"1.0-","w":730,"q":17.5},{"s":"1.0-","w":740,"q":16.7},{"s":"1.0-","w":750,"q":16.2},{"s":"1.0-","w":760,"q":15.7},{"s":"1.0-","w":770,"q":15.1},{"s":"1.0-","w":780,"q":14.8},
{"s":"1.0-","w":790,"q":14.5},{"s":"1.0-","w":800,"q":13.9},{"s":"1.0-","w":810,"q":13.3},{"s":"1.0-","w":820,"q":12.5},{"s":"1.0-","w":830,"q":11.7},{"s":"1.0-","w":840,"q":10.9},{"s":"1.0-","w":850,"q":10.1},{"s":"1.0-","w":860,"q":9.3},{"s":"1.0-","w":870,"q":8.5},{"s":"1.0-","w":880,"q":7.7},
{"s":"1.0-","w":890,"q":7.0},{"s":"1.0-","w":900,"q":6.3},{"s":"1.0-","w":910,"q":5.7},{"s":"1.0-","w":920,"q":5.0},{"s":"1.0-","w":930,"q":4.4},{"s":"1.0-","w":940,"q":3.9},{"s":"1.0-","w":950,"q":3.4},{"s":"1.0-","w":960,"q":3.0},{"s":"1.0-","w":970,"q":2.6},{"s":"1.0-","w":980,"q":2.2},
{"s":"1.0-","w":990,"q":1.9},{"s":"1.0-","w":1000,"q":1.7},{"s":"1.0-","w":1010,"q":1.4},{"s":"1.0-","w":1020,"q":1.1},{"s":"1.0-","w":1030,"q":0.9},{"s":"1.0-","w":1040,"q":0.7},{"s":"1.0-","w":1050,"q":0.5},{"s":"1.0-","w":1060,"q":0.4},{"s":"1.0-","w":1070,"q":0.3},{"s":"1.0-","w":1080,"q":0.2},
{"s":"1.0-","w":1090,"q":0.15},{"s":"1.0-","w":1100,"q":0.1},
{"s":"0.9-","w":390,"q":10.8},{"s":"0.9-","w":400,"q":11.9},{"s":"0.9-","w":410,"q":12.8},{"s":"0.9-","w":420,"q":14.0},{"s":"0.9-","w":430,"q":15.6},{"s":"0.9-","w":440,"q":17.3},{"s":"0.9-","w":450,"q":18.4},{"s":"0.9-","w":460,"q":18.8},{"s":"0.9-","w":470,"q":18.8},{"s":"0.9-","w":480,"q":19.1},
{"s":"0.9-","w":490,"q":19.9},{"s":"0.9-","w":500,"q":21.1},{"s":"0.9-","w":510,"q":22.2},{"s":"0.9-","w":520,"q":22.8},{"s":"0.9-","w":530,"q":23.1},{"s":"0.9-","w":540,"q":22.8},{"s":"0.9-","w":550,"q":22.4},{"s":"0.9-","w":560,"q":22.0},{"s":"0.9-","w":570,"q":21.7},{"s":"0.9-","w":580,"q":21.6},
{"s":"0.9-","w":590,"q":21.8},{"s":"0.9-","w":600,"q":22.5},{"s":"0.9-","w":610,"q":23.0},{"s":"0.9-","w":620,"q":23.2},{"s":"0.9-","w":630,"q":23.3},{"s":"0.9-","w":640,"q":23.2},{"s":"0.9-","w":650,"q":22.9},{"s":"0.9-","w":660,"q":22.5},{"s":"0.9-","w":670,"q":21.8},{"s":"0.9-","w":680,"q":20.9},
{"s":"0.9-","w":690,"q":20.0},{"s":"0.9-","w":700,"q":19.4},{"s":"0.9-","w":710,"q":18.6},{"s":"0.9-","w":720,"q":18.0},{"s":"0.9-","w":730,"q":17.4},{"s":"0.9-","w":740,"q":16.6},{"s":"0.9-","w":750,"q":16.1},{"s":"0.9-","w":760,"q":15.6},{"s":"0.9-","w":770,"q":15.0},{"s":"0.9-","w":780,"q":14.7},
{"s":"0.9-","w":790,"q":14.4},{"s":"0.9-","w":800,"q":13.8},{"s":"0.9-","w":810,"q":13.2},{"s":"0.9-","w":820,"q":12.4},{"s":"0.9-","w":830,"q":11.6},{"s":"0.9-","w":840,"q":10.8},{"s":"0.9-","w":850,"q":10.0},{"s":"0.9-","w":860,"q":9.2},{"s":"0.9-","w":870,"q":8.4},{"s":"0.9-","w":880,"q":7.6},
{"s":"0.9-","w":890,"q":6.9},{"s":"0.9-","w":900,"q":6.2},{"s":"0.9-","w":910,"q":5.6},{"s":"0.9-","w":920,"q":4.9},{"s":"0.9-","w":930,"q":4.3},{"s":"0.9-","w":940,"q":3.8},{"s":"0.9-","w":950,"q":3.3},{"s":"0.9-","w":960,"q":2.9},{"s":"0.9-","w":970,"q":2.5},{"s":"0.9-","w":980,"q":2.1},
{"s":"0.9-","w":990,"q":1.8},{"s":"0.9-","w":1000,"q":1.6},{"s":"0.9-","w":1010,"q":1.4},{"s":"0.9-","w":1020,"q":1.1},{"s":"0.9-","w":1030,"q":0.9},{"s":"0.9-","w":1040,"q":0.7},{"s":"0.9-","w":1050,"q":0.5},{"s":"0.9-","w":1060,"q":0.4},{"s":"0.9-","w":1070,"q":0.3},{"s":"0.9-","w":1080,"q":0.2},
{"s":"0.9-","w":1090,"q":0.15},{"s":"0.9-","w":1100,"q":0.1},
{"s":"0.8-","w":390,"q":10.6},{"s":"0.8-","w":400,"q":11.7},{"s":"0.8-","w":410,"q":12.6},{"s":"0.8-","w":420,"q":13.8},{"s":"0.8-","w":430,"q":15.4},{"s":"0.8-","w":440,"q":17.1},{"s":"0.8-","w":450,"q":18.2},{"s":"0.8-","w":460,"q":18.6},{"s":"0.8-","w":470,"q":18.6},{"s":"0.8-","w":480,"q":18.9},
{"s":"0.8-","w":490,"q":19.7},{"s":"0.8-","w":500,"q":20.9},{"s":"0.8-","w":510,"q":22.0},{"s":"0.8-","w":520,"q":22.6},{"s":"0.8-","w":530,"q":22.9},{"s":"0.8-","w":540,"q":22.6},{"s":"0.8-","w":550,"q":22.2},{"s":"0.8-","w":560,"q":21.8},{"s":"0.8-","w":570,"q":21.5},{"s":"0.8-","w":580,"q":21.4},
{"s":"0.8-","w":590,"q":21.6},{"s":"0.8-","w":600,"q":22.3},{"s":"0.8-","w":610,"q":22.8},{"s":"0.8-","w":620,"q":23.0},{"s":"0.8-","w":630,"q":23.1},{"s":"0.8-","w":640,"q":23.0},{"s":"0.8-","w":650,"q":22.7},{"s":"0.8-","w":660,"q":22.3},{"s":"0.8-","w":670,"q":21.6},{"s":"0.8-","w":680,"q":20.7},
{"s":"0.8-","w":690,"q":19.8},{"s":"0.8-","w":700,"q":19.2},{"s":"0.8-","w":710,"q":18.4},{"s":"0.8-","w":720,"q":17.8},{"s":"0.8-","w":730,"q":17.2},{"s":"0.8-","w":740,"q":16.4},{"s":"0.8-","w":750,"q":15.9},{"s":"0.8-","w":760,"q":15.4},{"s":"0.8-","w":770,"q":14.8},{"s":"0.8-","w":780,"q":14.5},
{"s":"0.8-","w":790,"q":14.2},{"s":"0.8-","w":800,"q":13.6},{"s":"0.8-","w":810,"q":13.0},{"s":"0.8-","w":820,"q":12.2},{"s":"0.8-","w":830,"q":11.4},{"s":"0.8-","w":840,"q":10.6},{"s":"0.8-","w":850,"q":9.8},{"s":"0.8-","w":860,"q":9.0},{"s":"0.8-","w":870,"q":8.2},{"s":"0.8-","w":880,"q":7.4},
{"s":"0.8-","w":890,"q":6.7},{"s":"0.8-","w":900,"q":6.0},{"s":"0.8-","w":910,"q":5.4},{"s":"0.8-","w":920,"q":4.7},{"s":"0.8-","w":930,"q":4.1},{"s":"0.8-","w":940,"q":3.6},{"s":"0.8-","w":950,"q":3.1},{"s":"0.8-","w":960,"q":2.8},{"s":"0.8-","w":970,"q":2.4},{"s":"0.8-","w":980,"q":2.0},
{"s":"0.8-","w":990,"q":1.7},{"s":"0.8-","w":1000,"q":1.5},{"s":"0.8-","w":1010,"q":1.4},{"s":"0.8-","w":1020,"q":1.1},{"s":"0.8-","w":1030,"q":0.9},{"s":"0.8-","w":1040,"q":0.7},{"s":"0.8-","w":1050,"q":0.5},{"s":"0.8-","w":1060,"q":0.4},{"s":"0.8-","w":1070,"q":0.3},{"s":"0.8-","w":1080,"q":0.2},
{"s":"0.8-","w":1090,"q":0.15},{"s":"0.8-","w":1100,"q":0.1}
]
},
"resolve": {"scale": {"color": "independent", "shape": "independent"}},
"vconcat": [
{
"data": {"name": "top"},
"width": 349, "height": 242,
"title": {"text": "Quantum Efficiency", "dx": 11, "offset": -1, "frame": "group", "anchor": "middle"},
"resolve": {"axis": {"x": "independent"}},
"encoding": {
"x": {"field": "w", "type": "quantitative", "scale": {"domain": [300, 1300], "nice": false, "zero": false}, "axis": null},
"y": {"field": "q", "type": "quantitative", "scale": {"domain": [0, 60], "nice": false},
"axis": {"values": [0, 10, 20, 30, 40, 50, 60], "title": "QE [%]", "labelExpr": "format(datum.value, '.1f') + '%'", "gridColor": {"condition": {"test": "datum.value === 60", "value": "#808080"}, "value": "#000000"}}}
},
"layer": [
{"mark": {"type": "line", "strokeWidth": 1},
"encoding": {
"x": {"field": "w", "type": "quantitative", "scale": {"domain": [300, 1300], "nice": false, "zero": false},
"axis": {"values": [300, 500, 700, 900, 1100, 1300], "format": "d", "title": "Wavelength [nm]", "gridColor": {"condition": {"test": "datum.value === 1300", "value": "#808080"}, "value": "#000000"}}},
"color": {"field": "s", "type": "nominal",
"scale": {"domain": ["Cone-", "3-", "2.5-", "0-", "Cone+", "3+", "2.5+", "0+"], "range": ["#000080", "#FF00FF", "#FFFF00", "#00FFFF", "#800080", "#800000", "#008080", "#0000FF"]}}}},
{"transform": [{"filter": {"field": "s", "equal": "none"}}],
"mark": {"type": "point", "filled": false, "opacity": 1},
"encoding": {
"x": {"field": "w", "type": "quantitative", "scale": {"domain": [300, 1300], "nice": false, "zero": false},
"axis": {"orient": "top", "domain": false, "ticks": false, "labels": false, "grid": false, "title": "5.6µm", "titleFont": "Liberation Serif", "titleFontSize": 22, "titleFontWeight": "normal", "titleColor": "#000000", "titleAnchor": "start", "titleAlign": "left", "titleBaseline": "alphabetic", "titleAngle": 0, "titleX": 354, "titleY": -11}},
"color": {"field": "s", "type": "nominal",
"scale": {"domain": ["Cone-", "3-", "2.5-", "0-", "Cone+", "3+", "2.5+", "0+"], "range": ["#000080", "#FF00FF", "#FFFF00", "#00FFFF", "#800080", "#800000", "#008080", "#0000FF"]},
"legend": {"orient": "none", "legendX": 371, "legendY": 51, "title": null, "strokeColor": "#000000", "padding": 3, "symbolSize": 64, "symbolStrokeWidth": 1.5, "symbolOpacity": 1, "symbolOffset": 7.75, "labelOffset": 9.9, "rowPadding": 5.5, "labelFontSize": 10.5}},
"shape": {"field": "s", "type": "nominal",
"scale": {"domain": ["Cone-", "3-", "2.5-", "0-", "Cone+", "3+", "2.5+", "0+"], "range": [
"M-2.9,0H2.9M0,-0.75L0.75,0L0,0.75L-0.75,0ZM0,-0.75V0.75M0,-0.35L0.35,0L0,0.35L-0.35,0Z",
"M-2.9,0H2.9M-0.6,-0.6H0.6V0.6H-0.6ZM-0.6,-0.3H0.6M-0.6,0.3H0.6",
"M-2.9,0H2.9M0,-0.75L0.75,0.6H-0.75ZM-0.35,0.3H0.35M0,-0.4V0.6",
"M-2.9,0H2.9M-0.6,-0.6L0.6,0.6M-0.6,0.6L0.6,-0.6",
"M-2.9,0H2.9M-0.6,-0.6L0.6,0.6M-0.6,0.6L0.6,-0.6M0,-0.75V0.75",
"M-2.9,0H2.9M0.65,0A0.65,0.65,0,1,1,-0.65,0A0.65,0.65,0,1,1,0.65,0ZM0,-0.65V0.65M0.3,0A0.3,0.3,0,1,1,-0.3,0A0.3,0.3,0,1,1,0.3,0Z",
"M-2.9,0H2.9M0,-0.7V0.7",
"M-2.9,0H2.9M-0.6,-0.2H0.6M-0.6,0.2H0.6"]},
"legend": {"orient": "none", "legendX": 371, "legendY": 51, "title": null, "strokeColor": "#000000", "padding": 3, "symbolSize": 64, "symbolStrokeWidth": 1.5, "symbolOpacity": 1, "symbolOffset": 7.75, "labelOffset": 9.9, "rowPadding": 5.5, "labelFontSize": 10.5}}
}},
{"transform": [{"filter": {"field": "s", "equal": "Cone-"}}], "mark": {"type": "point", "shape": "diamond", "filled": true, "color": "#000080", "size": 30, "opacity": 1, "strokeWidth": 0}},
{"transform": [{"filter": {"field": "s", "equal": "3-"}}], "mark": {"type": "point", "shape": "square", "filled": true, "color": "#FF00FF", "size": 25, "opacity": 1, "strokeWidth": 0}},
{"transform": [{"filter": {"field": "s", "equal": "2.5-"}}], "mark": {"type": "point", "shape": "triangle-up", "filled": true, "color": "#FFFF00", "size": 32, "opacity": 1, "strokeWidth": 0}},
{"transform": [{"filter": {"field": "s", "equal": "0-"}}], "mark": {"type": "point", "shape": "M-1,-1L1,1M-1,1L1,-1", "filled": false, "color": "#00FFFF", "size": 25, "opacity": 1, "strokeWidth": 1}},
{"transform": [{"filter": {"field": "s", "equal": "Cone+"}}], "mark": {"type": "point", "shape": "M-1,-1L1,1M-1,1L1,-1M0,-1.2V1.2", "filled": false, "color": "#800080", "size": 25, "opacity": 1, "strokeWidth": 1}},
{"transform": [{"filter": {"field": "s", "equal": "3+"}}], "mark": {"type": "point", "shape": "circle", "filled": true, "color": "#800000", "size": 30, "opacity": 1, "strokeWidth": 0}},
{"transform": [{"filter": {"field": "s", "equal": "2.5+"}}], "mark": {"type": "point", "shape": "M-1.2,0H1.2M0,-1.2V1.2", "filled": false, "color": "#008080", "size": 25, "opacity": 1, "strokeWidth": 1}},
{"transform": [{"filter": {"field": "s", "equal": "0+"}}], "mark": {"type": "point", "shape": "M-1,-0.35H1V0.35H-1Z", "filled": true, "color": "#0000FF", "size": 25, "opacity": 1, "strokeWidth": 0}}
]
},
{
"data": {"name": "bot"},
"width": 358, "height": 238,
"title": {"text": "Quantum Efficiency", "dx": 8, "offset": -6, "frame": "group", "anchor": "middle"},
"resolve": {"axis": {"x": "independent"}},
"encoding": {
"x": {"field": "w", "type": "quantitative", "scale": {"domain": [300, 1200], "nice": false, "zero": false}, "axis": null},
"y": {"field": "q", "type": "quantitative", "scale": {"domain": [0, 25], "nice": false},
"axis": {"values": [0, 5, 10, 15, 20, 25], "title": "QE [%]", "labelExpr": "format(datum.value, '.1f') + '%'", "gridColor": {"condition": {"test": "datum.value === 25", "value": "#808080"}, "value": "#000000"}}}
},
"layer": [
{"mark": {"type": "line", "strokeWidth": 1},
"encoding": {
"x": {"field": "w", "type": "quantitative", "scale": {"domain": [300, 1200], "nice": false, "zero": false},
"axis": {"values": [300, 400, 500, 600, 700, 800, 900, 1000, 1100, 1200], "format": "d", "title": "Wavelength [nm]", "gridColor": {"condition": {"test": "datum.value === 1200", "value": "#808080"}, "value": "#000000"}}},
"color": {"field": "s", "type": "nominal",
"scale": {"domain": ["1.6a-", "1.5-", "1.4-", "1.3-", "1.2-", "1.1-", "1.0-", "0.9-", "0.8-"], "range": ["#000080", "#FF00FF", "#FFFF00", "#00FFFF", "#800080", "#800000", "#008080", "#0000FF", "#00CCFF"]}}}},
{"transform": [{"filter": {"field": "s", "equal": "none"}}],
"mark": {"type": "point", "filled": false, "opacity": 1},
"encoding": {
"x": {"field": "w", "type": "quantitative", "scale": {"domain": [300, 1200], "nice": false, "zero": false},
"axis": {"orient": "top", "domain": false, "ticks": false, "labels": false, "grid": false, "title": "3.9µm", "titleFont": "Liberation Serif", "titleFontSize": 22, "titleFontWeight": "normal", "titleColor": "#000000", "titleAnchor": "start", "titleAlign": "left", "titleBaseline": "alphabetic", "titleAngle": 0, "titleX": 355.7, "titleY": -19}},
"color": {"field": "s", "type": "nominal",
"scale": {"domain": ["1.6a-", "1.5-", "1.4-", "1.3-", "1.2-", "1.1-", "1.0-", "0.9-", "0.8-"], "range": ["#000080", "#FF00FF", "#FFFF00", "#00FFFF", "#800080", "#800000", "#008080", "#0000FF", "#00CCFF"]},
"legend": {"orient": "none", "legendX": 380.7, "legendY": 39, "title": null, "strokeColor": "#000000", "padding": 4, "symbolSize": 64, "symbolStrokeWidth": 1.5, "symbolOpacity": 1, "symbolOffset": 6.3, "labelOffset": 10.3, "rowPadding": 5.9, "labelFontSize": 10}},
"shape": {"field": "s", "type": "nominal",
"scale": {"domain": ["1.6a-", "1.5-", "1.4-", "1.3-", "1.2-", "1.1-", "1.0-", "0.9-", "0.8-"], "range": [
"M-2.9,0H2.9M0,-0.75L0.75,0L0,0.75L-0.75,0ZM0,-0.75V0.75M0,-0.35L0.35,0L0,0.35L-0.35,0Z",
"M-2.9,0H2.9M-0.6,-0.6H0.6V0.6H-0.6ZM-0.6,-0.3H0.6M-0.6,0.3H0.6",
"M-2.9,0H2.9M0,-0.75L0.75,0.6H-0.75ZM-0.35,0.3H0.35M0,-0.4V0.6",
"M-2.9,0H2.9M-0.6,-0.6L0.6,0.6M-0.6,0.6L0.6,-0.6",
"M-2.9,0H2.9M-0.6,-0.6L0.6,0.6M-0.6,0.6L0.6,-0.6M0,-0.75V0.75",
"M-2.9,0H2.9M0.65,0A0.65,0.65,0,1,1,-0.65,0A0.65,0.65,0,1,1,0.65,0ZM0,-0.65V0.65M0.3,0A0.3,0.3,0,1,1,-0.3,0A0.3,0.3,0,1,1,0.3,0Z",
"M-2.9,0H2.9M0,-0.7V0.7",
"M-2.9,0H2.9M-0.6,-0.2H0.6M-0.6,0.2H0.6",
"M-2.9,0H2.9M-0.9,-0.2H0.9M-0.9,0.2H0.9"]},
"legend": {"orient": "none", "legendX": 380.7, "legendY": 39, "title": null, "strokeColor": "#000000", "padding": 4, "symbolSize": 64, "symbolStrokeWidth": 1.5, "symbolOpacity": 1, "symbolOffset": 6.3, "labelOffset": 10.3, "rowPadding": 5.9, "labelFontSize": 10}}
}},
{"transform": [{"filter": {"field": "s", "equal": "1.6a-"}}], "mark": {"type": "point", "shape": "diamond", "filled": true, "color": "#000080", "size": 30, "opacity": 1, "strokeWidth": 0}},
{"transform": [{"filter": {"field": "s", "equal": "1.5-"}}], "mark": {"type": "point", "shape": "square", "filled": true, "color": "#FF00FF", "size": 25, "opacity": 1, "strokeWidth": 0}},
{"transform": [{"filter": {"field": "s", "equal": "1.4-"}}], "mark": {"type": "point", "shape": "triangle-up", "filled": true, "color": "#FFFF00", "size": 32, "opacity": 1, "strokeWidth": 0}},
{"transform": [{"filter": {"field": "s", "equal": "1.3-"}}], "mark": {"type": "point", "shape": "M-1,-1L1,1M-1,1L1,-1", "filled": false, "color": "#00FFFF", "size": 25, "opacity": 1, "strokeWidth": 1}},
{"transform": [{"filter": {"field": "s", "equal": "1.2-"}}], "mark": {"type": "point", "shape": "M-1,-1L1,1M-1,1L1,-1M0,-1.2V1.2", "filled": false, "color": "#800080", "size": 25, "opacity": 1, "strokeWidth": 1}},
{"transform": [{"filter": {"field": "s", "equal": "1.1-"}}], "mark": {"type": "point", "shape": "circle", "filled": true, "color": "#800000", "size": 30, "opacity": 1, "strokeWidth": 0}},
{"transform": [{"filter": {"field": "s", "equal": "1.0-"}}], "mark": {"type": "point", "shape": "M-1.2,0H1.2M0,-1.2V1.2", "filled": false, "color": "#008080", "size": 25, "opacity": 1, "strokeWidth": 1}},
{"transform": [{"filter": {"field": "s", "equal": "0.9-"}}], "mark": {"type": "point", "shape": "M-1,-0.35H1V0.35H-1Z", "filled": true, "color": "#0000FF", "size": 25, "opacity": 1, "strokeWidth": 0}},
{"transform": [{"filter": {"field": "s", "equal": "0.8-"}}], "mark": {"type": "point", "shape": "M-1.3,-0.35H1.3V0.35H-1.3Z", "filled": true, "color": "#00CCFF", "size": 25, "opacity": 1, "strokeWidth": 0}}
]
}
],
"config": {
"font": "Liberation Sans",
"view": {"fill": "#FFFFFF", "stroke": "#808080", "strokeWidth": 1},
"axis": {"labelFont": "Liberation Sans", "labelFontSize": 10.5, "labelColor": "#000000", "titleFont": "Liberation Sans", "titleFontSize": 11, "titleFontWeight": "bold", "titleColor": "#000000", "grid": true, "gridOpacity": 1, "gridWidth": 1, "domainColor": "#808080", "tickColor": "#808080", "tickSize": 4, "labelFlush": false, "labelOverlap": false},
"axisX": {"labelPadding": 4, "titlePadding": 9},
"axisY": {"labelPadding": 5, "titlePadding": 5},
"title": {"font": "Liberation Sans", "fontSize": 12, "fontWeight": "bold", "color": "#000000"},
"legend": {"labelFont": "Liberation Sans", "labelColor": "#000000"}
}
}
